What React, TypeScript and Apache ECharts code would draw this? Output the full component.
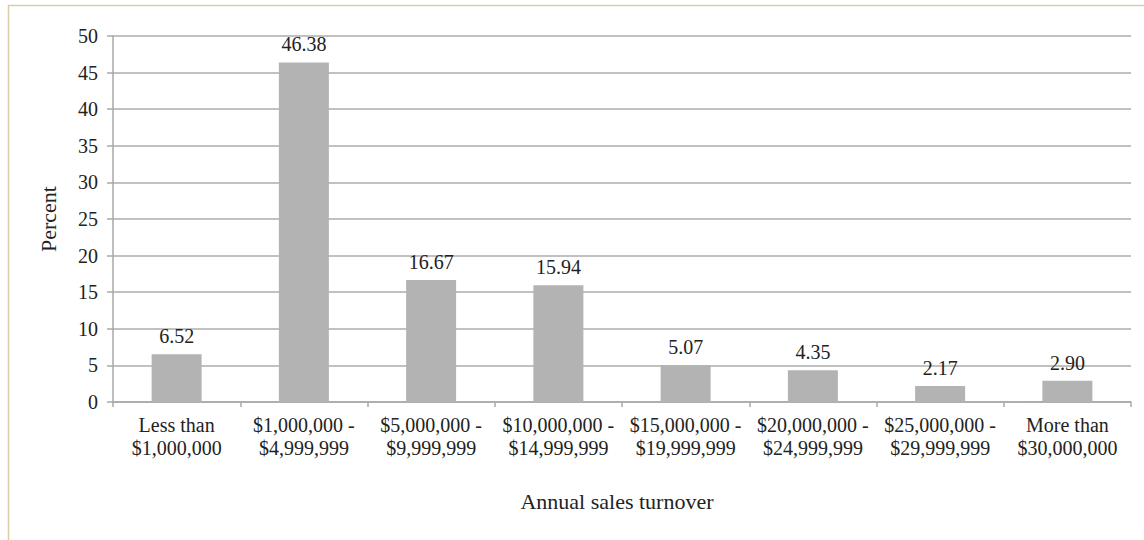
import React, { useEffect, useRef } from "react";
import * as echarts from "echarts";

const categories = [
  "Less than\n$1,000,000",
  "$1,000,000 -\n$4,999,999",
  "$5,000,000 -\n$9,999,999",
  "$10,000,000 -\n$14,999,999",
  "$15,000,000 -\n$19,999,999",
  "$20,000,000 -\n$24,999,999",
  "$25,000,000 -\n$29,999,999",
  "More than\n$30,000,000",
];
const percentValues = [6.52, 46.38, 16.67, 15.94, 5.07, 4.35, 2.17, 2.9];
const yTicks = { min: 0, max: 50, interval: 5 };

const FONT = "'Liberation Serif', 'Times New Roman', serif";
const FS = 20;
const NAME_FS = 22;

export default function App() {
  const ref = useRef<HTMLDivElement>(null);
  useEffect(() => {
    if (!ref.current) return;
    const chart = echarts.init(ref.current, null, { renderer: "svg" });
    chart.setOption({
      animation: false,
      backgroundColor: "#ffffff",
      textStyle: { fontFamily: FONT },
      graphic: [
        {
          type: "rect",
          shape: { x: 8.5, y: 5.5, width: 1300, height: 700 },
          style: { fill: "none", stroke: "#d8cfa6", lineWidth: 1.5 },
          silent: true,
        },
      ],
      grid: { left: 113, right: 13, top: 36, bottom: 138, containLabel: false },
      xAxis: {
        type: "category",
        data: categories,
        name: "Annual sales turnover",
        nameLocation: "middle",
        nameGap: 88,
        nameTextStyle: { fontFamily: FONT, fontSize: NAME_FS, color: "#222", padding: [0, 10, 0, 0] },
        axisLine: { lineStyle: { color: "#a8a8a8", width: 1.5 } },
        axisTick: { show: true, length: 5, alignWithLabel: false, lineStyle: { color: "#a8a8a8", width: 1.5 } },
        axisLabel: {
          interval: 0,
          margin: 11,
          fontFamily: FONT,
          fontSize: FS,
          lineHeight: 23,
          color: "#222",
        },
      },
      yAxis: {
        type: "value",
        min: yTicks.min,
        max: yTicks.max,
        interval: yTicks.interval,
        name: "Percent",
        nameLocation: "middle",
        nameGap: 54,
        nameRotate: 90,
        nameTextStyle: { fontFamily: FONT, fontSize: NAME_FS, color: "#222" },
        axisLine: { show: true, lineStyle: { color: "#a8a8a8", width: 1.5 } },
        axisTick: { show: true, length: 6, lineStyle: { color: "#a8a8a8", width: 1.5 } },
        axisLabel: { margin: 15, fontFamily: FONT, fontSize: FS, color: "#222" },
        splitLine: { show: true, lineStyle: { color: "#acacac", width: 1.5 } },
      },
      series: [
        {
          type: "bar",
          data: percentValues,
          barWidth: 50,
          itemStyle: { color: "#b3b3b3" },
          label: {
            show: true,
            position: "top",
            distance: 8,
            formatter: (p: any) => Number(p.value).toFixed(2),
            fontFamily: FONT,
            fontSize: FS,
            color: "#222",
          },
        },
      ],
    });
    return () => chart.dispose();
  }, []);
  return (
    <div
      ref={ref}
      style={{ position: "fixed", left: 0, top: 0, width: 1144, height: 540 }}
    />
  );
}
